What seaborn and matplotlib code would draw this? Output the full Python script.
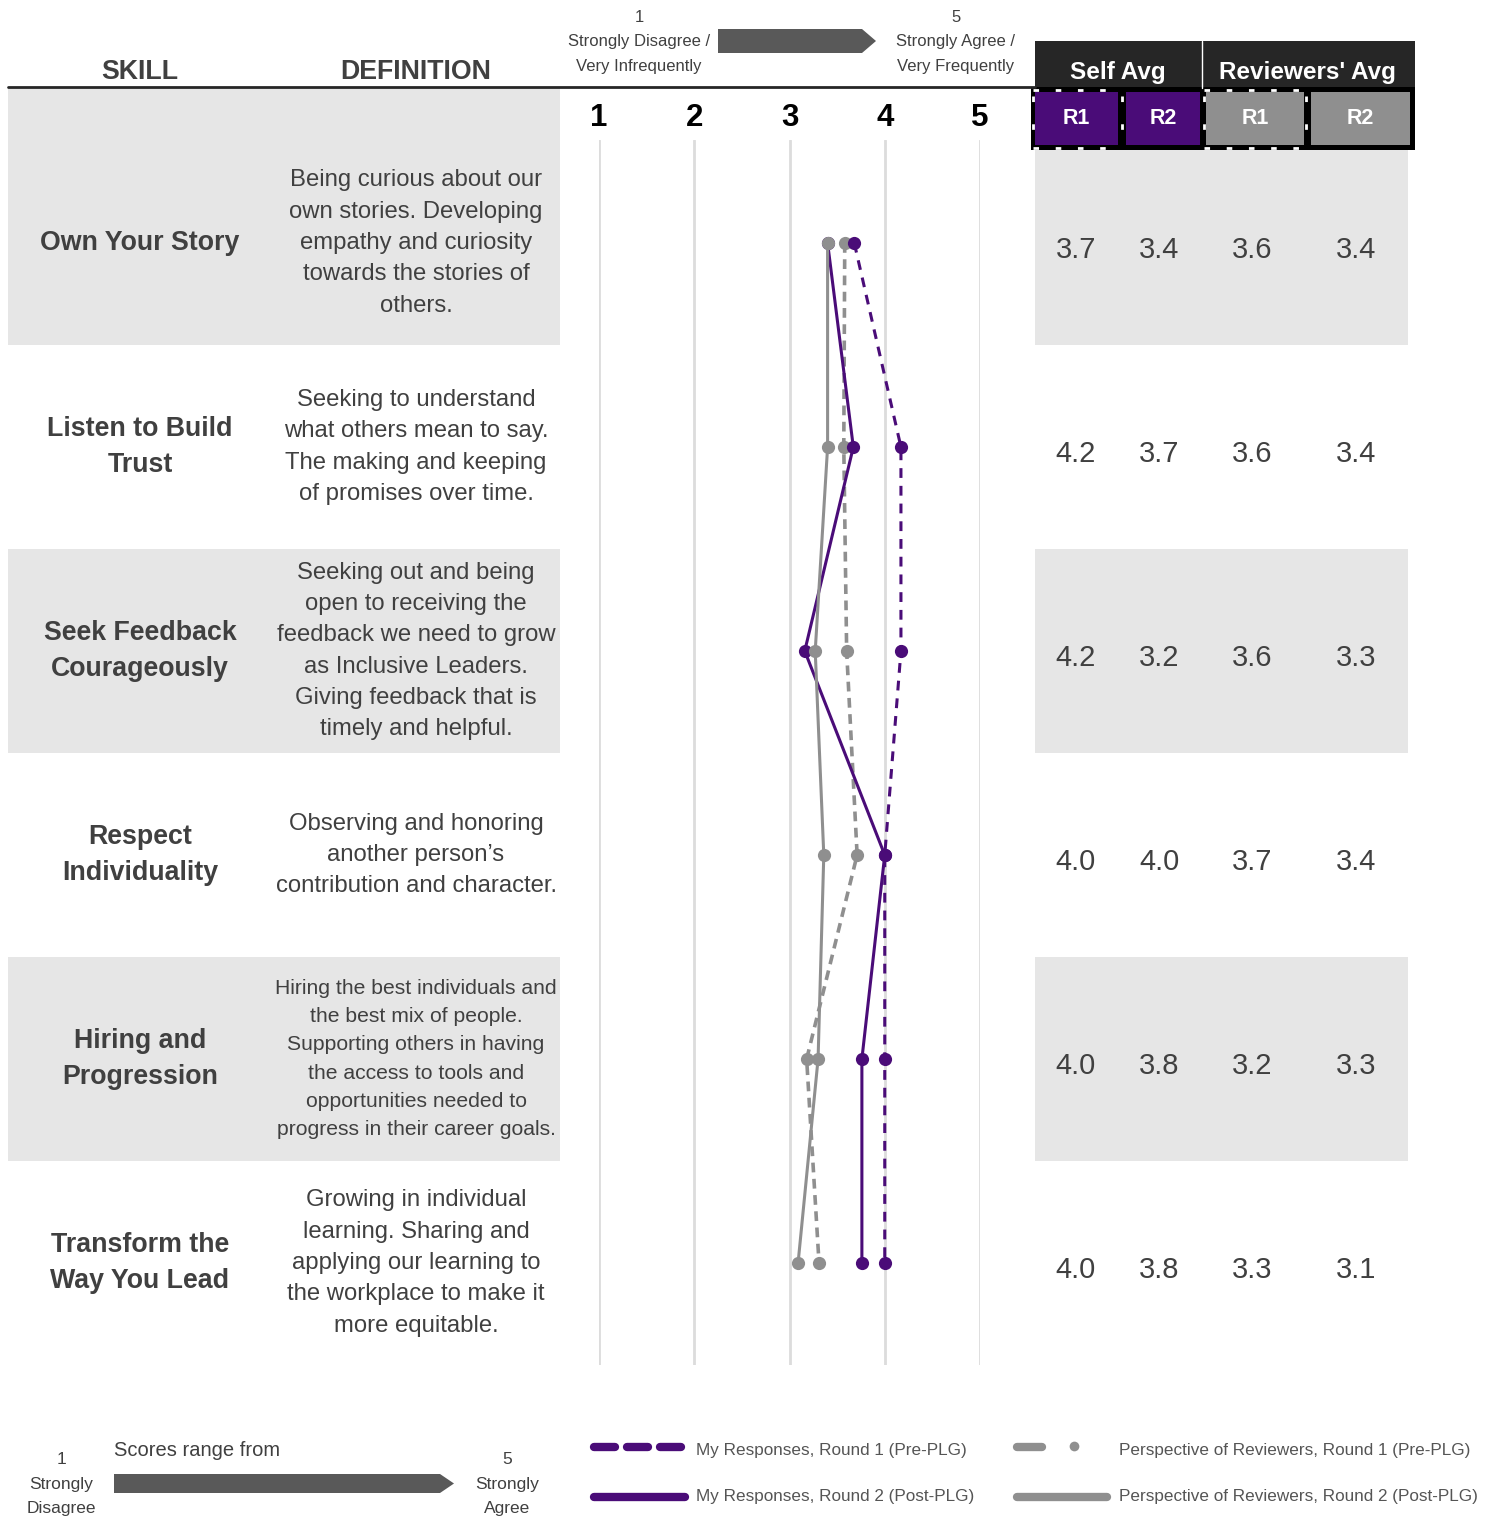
import numpy as np
import pandas as pd
import matplotlib
matplotlib.use('Agg')
import matplotlib.pyplot as plt
from matplotlib.patches import Rectangle, Polygon
import seaborn as sns

# ---- data ----
skills = ['Own Your Story', 'Listen to Build\nTrust', 'Seek Feedback\nCourageously',
          'Respect\nIndividuality', 'Hiring and\nProgression', 'Transform the\nWay You Lead']
definitions = [
    'Being curious about our\nown stories. Developing\nempathy and curiosity\ntowards the stories of\nothers.',
    'Seeking to understand\nwhat others mean to say.\nThe making and keeping\nof promises over time.',
    'Seeking out and being\nopen to receiving the\nfeedback we need to grow\nas Inclusive Leaders.\nGiving feedback that is\ntimely and helpful.',
    'Observing and honoring\nanother person\u2019s\ncontribution and character.',
    'Hiring the best individuals and\nthe best mix of people.\nSupporting others in having\nthe access to tools and\nopportunities needed to\nprogress in their career goals.',
    'Growing in individual\nlearning. Sharing and\napplying our learning to\nthe workplace to make it\nmore equitable.',
]
self_r1 = [3.68, 4.17, 4.17, 4.0, 4.0, 4.0]
self_r2 = [3.4, 3.67, 3.16, 4.0, 3.76, 3.76]
rev_r1 = [3.58, 3.57, 3.6, 3.71, 3.18, 3.31]
rev_r2 = [3.4, 3.4, 3.27, 3.36, 3.3, 3.09]
scale_ticks = [1, 2, 3, 4, 5]
legend_labels = ['My Responses, Round 1 (Pre-PLG)', 'My Responses, Round 2 (Post-PLG)',
                 'Perspective of Reviewers, Round 1 (Pre-PLG)', 'Perspective of Reviewers, Round 2 (Post-PLG)']

PURPLE = '#4a0c78'
GREY = '#8f8f8f'
TXT = '#404040'
BAND = '#e6e6e6'

sns.set_style('white')
plt.rcParams['font.family'] = ['Liberation Sans', 'DejaVu Sans']

W, H = 1492, 1518
fig = plt.figure(figsize=(W / 100, H / 100), dpi=100)

# background / layout axes in pixel coordinates
bg = fig.add_axes([0, 0, 1, 1])
bg.set_xlim(0, W)
bg.set_ylim(H, 0)
bg.axis('off')

row_c = [243 + 204 * i for i in range(6)]
# gray bands
for i in (0, 2, 4):
    top = 88 if i == 0 else row_c[i] - 102
    bg.add_patch(Rectangle((8, top), 552, row_c[i] + 102 - top, color=BAND, lw=0))
    top2 = 150 if i == 0 else row_c[i] - 102
    bg.add_patch(Rectangle((1035, top2), 373, row_c[i] + 102 - top2, color=BAND, lw=0))

# header
bg.plot([8, 1035], [87, 87], color='#262626', lw=2)
bg.text(140, 72, 'SKILL', ha='center', va='center', fontsize=19.3, fontweight='bold', color=TXT)
bg.text(416, 72, 'DEFINITION', ha='center', va='center', fontsize=19.3, fontweight='bold', color=TXT)

# top scale annotation
for x, lines in ((639, ['1', 'Strongly Disagree /', 'Very Infrequently']),
                 (956, ['5', 'Strongly Agree /', 'Very Frequently'])):
    for k, s in enumerate(lines):
        bg.text(x, 17 + 24.5 * k, s, ha='center', va='center', fontsize=12, color=TXT)
bg.add_patch(Polygon([[718, 29], [862, 29], [876, 41], [862, 53], [718, 53]], color='#595959', lw=0))

# table header
bg.add_patch(Rectangle((1035, 41), 380, 47, color='#262626', lw=0))
bg.plot([1202, 1202], [41, 88], color='white', lw=1)
bg.text(1118, 73, 'Self Avg', ha='center', va='center', fontsize=17.5, fontweight='bold', color='white')
bg.text(1307, 73, "Reviewers' Avg", ha='center', va='center', fontsize=17.5, fontweight='bold', color='white')
bg.add_patch(Rectangle((1031, 87), 384, 63, color='black', lw=0))
cells = [(1035, 1118, PURPLE, 'R1'), (1126, 1200, PURPLE, 'R2'), (1206, 1304, GREY, 'R1'), (1311, 1410, GREY, 'R2')]
for x0, x1, c, lab in cells:
    bg.add_patch(Rectangle((x0, 92), x1 - x0, 53, color=c, lw=0))
    bg.text((x0 + x1) / 2, 119, lab, ha='center', va='center', fontsize=15.5, fontweight='bold', color='white')
for xa, xb in ((1033, 1120), (1204, 1302)):
    bg.plot([xa, xb], [89.5, 89.5], color='white', lw=2, ls=(0, (2, 6)))
    bg.plot([xa, xb], [148, 148], color='white', lw=2, ls=(0, (2, 6)))
for xv in (1033, 1122, 1204, 1306):
    bg.plot([xv, xv], [96, 140], color='white', lw=2, ls=(0, (2, 8)))

# skill & definition text, table values
table_cols = [1076, 1159, 1252, 1356]
for i in range(6):
    bg.text(140, row_c[i], skills[i], ha='center', va='center', fontsize=19.3, fontweight='bold',
            color=TXT, linespacing=1.46)
    fs = 15.2 if i == 4 else 17.2
    ls = 1.62 if i == 4 else 1.55
    bg.text(416, row_c[i], definitions[i], ha='center', va='center', fontsize=fs,
            color=TXT, linespacing=ls)
    for x, v in zip(table_cols, (self_r1[i], self_r2[i], rev_r1[i], rev_r2[i])):
        bg.text(x, row_c[i] + 7, f'{v:.1f}', ha='center', va='center', fontsize=21, color=TXT)

# main chart axes
ax = fig.add_axes([599 / W, 1 - 1365 / H, (980 - 599) / W, (1365 - 140) / H])
ax.set_xlim(1, 5)
ax.set_ylim(5.5, -0.505)
ax.axis('off')
for t in scale_ticks:
    ax.axvline(t, color='#dcdcdc', lw=2, zorder=0)
    ax.text(t, -0.612, str(t), ha='center', va='center', fontsize=22.5, fontweight='bold',
            color='black', clip_on=False)

rows = list(range(6))
series = [
    (rev_r1, GREY, (0, (2.7, 1.8)), 2.6),
    (self_r1, PURPLE, (0, (3.2, 2.6)), 2.2),
    (self_r2, PURPLE, '-', 2.2),
    (rev_r2, GREY, '-', 2.2),
]
for vals, c, ls, lw in series:
    df = pd.DataFrame({'score': vals, 'row': rows})
    sns.lineplot(data=df, x='score', y='row', sort=False, estimator=None, ax=ax, color=c,
                 linestyle=ls, lw=lw, marker='o', markersize=9.5, markeredgewidth=0,
                 clip_on=False, legend=False)

# bottom-left scale note
for x, lines in ((61, ['1', 'Strongly', 'Disagree']), (507, ['5', 'Strongly', 'Agree'])):
    for k, s in enumerate(lines):
        bg.text(x, 1459 + 25 * k, s, ha='center', va='center', fontsize=12.5, color=TXT)
bg.text(114, 1451, 'Scores range from', ha='left', va='center', fontsize=14.5, color=TXT)
bg.add_patch(Polygon([[114, 1474], [440, 1474], [454, 1483.5], [440, 1493], [114, 1493]],
                     color='#595959', lw=0))

# legend
for x0 in (594, 627, 660):
    bg.plot([x0, x0 + 21], [1447, 1447], color=PURPLE, lw=6, solid_capstyle='round')
bg.plot([594, 685], [1497, 1497], color=PURPLE, lw=6, solid_capstyle='round')
bg.plot([1017, 1042], [1447, 1447], color=GREY, lw=6, solid_capstyle='round')
bg.plot([1074], [1446], 'o', color=GREY, markersize=7, markeredgewidth=0)
bg.plot([1017, 1107], [1497, 1497], color=GREY, lw=6, solid_capstyle='round')
for (x, y), s in zip(((696, 1450), (696, 1496), (1119, 1450), (1119, 1496)), legend_labels):
    bg.text(x, y, s, ha='left', va='center', fontsize=12.3, color='#555555')

fig.savefig('out.png', dpi=100)
